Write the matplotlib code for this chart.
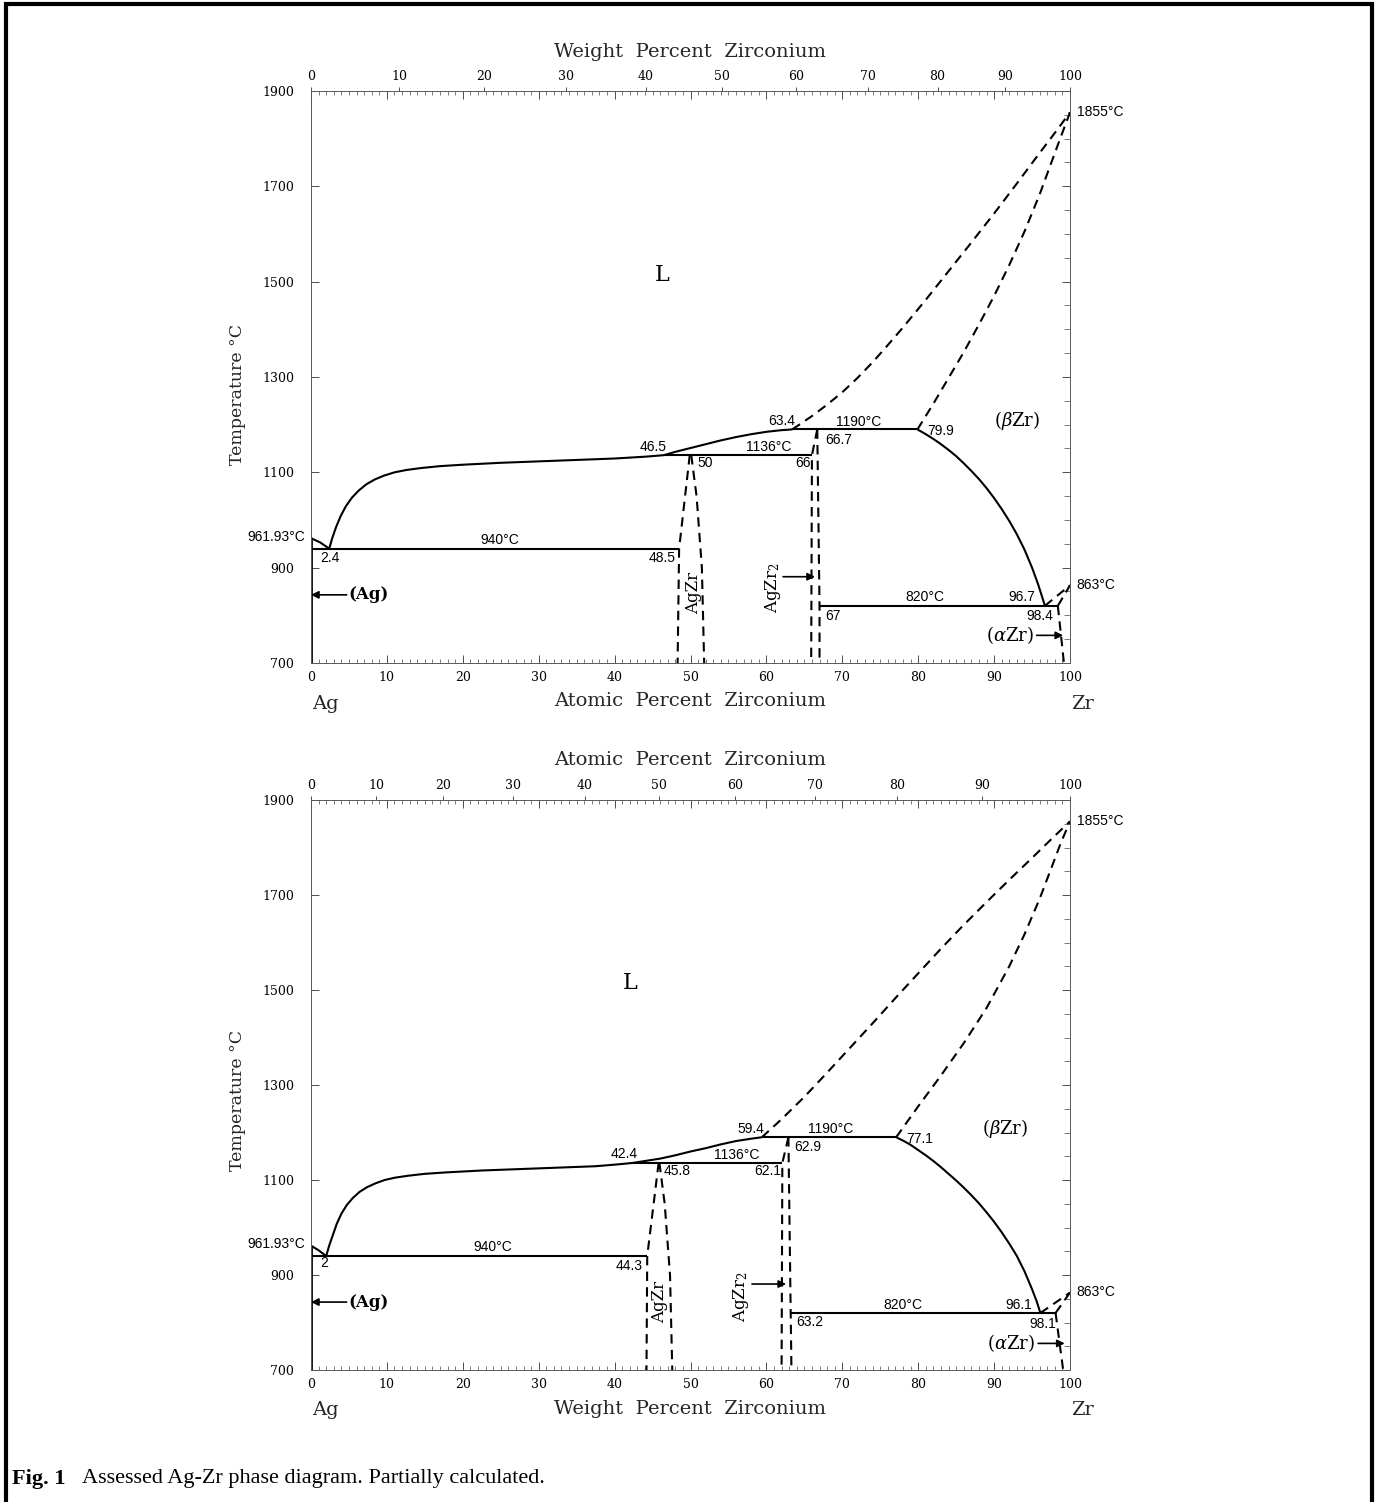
import numpy as np
import matplotlib
matplotlib.use("Agg")
import matplotlib.pyplot as plt
from matplotlib.patches import Rectangle
from matplotlib.ticker import MultipleLocator

plt.rcParams["mathtext.fontset"] = "dejavuserif"

M_AG = 107.868
M_ZR = 91.224

# ---------------- upper diagram: atomic percent Zr ----------------
A_AG_LIQ_X = [0.0, 1.2, 2.4]
A_AG_LIQ_T = [961.93, 953, 940]
A_LIQ_X = [2.4, 2.8, 3.3, 3.9, 4.6, 5.4, 6.3, 7.3, 8.4, 9.6, 11.0, 12.6, 14.5, 17.0, 20.0,
           25.0, 30.0, 35.0, 40.0, 44.2, 46.5,
           48.0, 50.0, 52.0, 54.0, 56.0, 58.0, 60.0, 62.0, 63.4]
A_LIQ_T = [940, 962, 985, 1008, 1029, 1047, 1062, 1075, 1085, 1093, 1100, 1105, 1109, 1113, 1116,
           1120, 1123, 1126, 1129, 1133, 1136,
           1143, 1151, 1159, 1167, 1174, 1180, 1185, 1188.5, 1190]
A_LIQ_HI_X = [63.4, 66, 68, 70, 72, 74, 76, 78, 81, 84, 87, 90, 93, 96, 98, 100]
A_LIQ_HI_T = [1190, 1218, 1242, 1268, 1298, 1331, 1367, 1404, 1462, 1522, 1582, 1643, 1706, 1770,
              1812, 1855]
A_SOL_X = [79.9, 82, 84, 86, 88, 90, 92, 94, 96, 97.5, 98.7, 100]
A_SOL_T = [1190, 1244, 1298, 1352, 1410, 1470, 1535, 1605, 1683, 1748, 1800, 1855]
A_BZR_X = [79.9, 81, 82, 83, 84, 85, 86, 87, 88, 89, 90, 91, 92, 93, 94, 95, 95.8, 96.7]
A_BZR_T = [1190, 1180, 1170, 1159, 1147, 1134, 1119, 1103, 1086, 1067, 1046, 1023, 998, 970, 938,
           900, 865, 820]
A_AGZR_L_X = [49.9, 48.5, 48.3]
A_AGZR_L_T = [1136, 940, 700]
A_AGZR_R_X = [50.1, 50.8, 51.5, 51.8]
A_AGZR_R_T = [1136, 1050, 900, 700]
A_AGZR2_L_X = [66.7, 66.0, 65.9]
A_AGZR2_L_T = [1190, 1136, 700]
A_AGZR2_R_X = [66.7, 67.0, 67.0]
A_AGZR2_R_T = [1190, 820, 700]
A_AZR_X = [[96.7, 100.0], [98.4, 100.0], [98.4, 99.2]]
A_AZR_T = [[820, 863], [820, 863], [820, 700]]
A_ISO_T = [940, 1136, 1190, 820]
A_ISO_X0 = [0.0, 46.5, 63.4, 67.0]
A_ISO_X1 = [48.5, 66.0, 79.9, 98.4]

# ---------------- lower diagram: weight percent Zr ----------------
W_AG_LIQ_X = [0.0, 1.0, 2.0]
W_AG_LIQ_T = [961.93, 952, 940]
W_LIQ_X = [2.0, 2.4, 2.9, 3.4, 4.0, 4.7, 5.5, 6.4, 7.4, 8.5, 9.7, 11.1, 12.8, 15.0, 17.8,
           22.5, 27.5, 32.5, 37.5, 40.5, 42.4,
           44.0, 46.0, 48.0, 50.0, 52.0, 54.0, 56.0, 58.0, 59.4]
W_LIQ_T = [940, 962, 985, 1008, 1029, 1047, 1062, 1075, 1085, 1093, 1100, 1105, 1109, 1113, 1116,
           1120, 1123, 1126, 1129, 1133, 1136,
           1140, 1145, 1152, 1160, 1167, 1175, 1182, 1187, 1190]
W_LIQ_HI_X = [59.4, 62, 65, 68, 71, 74, 77, 80, 83, 86, 89, 92, 95, 97.5, 100]
W_LIQ_HI_T = [1190, 1228, 1275, 1326, 1378, 1430, 1483, 1535, 1587, 1637, 1685, 1732, 1778, 1817,
              1855]
W_SOL_X = [77.1, 80, 83, 86, 89, 92, 94, 96, 97.5, 98.8, 100]
W_SOL_T = [1190, 1255, 1320, 1388, 1462, 1550, 1617, 1692, 1755, 1810, 1855]
W_BZR_X = [77.1, 78, 79, 80, 81, 82, 83, 84, 85, 86, 87, 88, 89, 90, 91, 92, 93, 94, 95, 95.6,
           96.1]
W_BZR_T = [1190, 1183, 1174, 1163, 1152, 1140, 1127, 1113, 1099, 1084, 1068, 1051, 1032, 1012, 990,
           966, 940, 908, 870, 845, 820]
W_AGZR_L_X = [45.8, 44.3, 44.2]
W_AGZR_L_T = [1136, 940, 700]
W_AGZR_R_X = [45.9, 46.6, 47.3, 47.6]
W_AGZR_R_T = [1136, 1050, 900, 700]
W_AGZR2_L_X = [62.9, 62.1, 62.0]
W_AGZR2_L_T = [1190, 1136, 700]
W_AGZR2_R_X = [62.9, 63.2, 63.3]
W_AGZR2_R_T = [1190, 820, 700]
W_AZR_X = [[96.1, 100.0], [98.1, 100.0], [98.1, 99.1]]
W_AZR_T = [[820, 863], [820, 863], [820, 700]]
W_ISO_T = [940, 1136, 1190, 820]
W_ISO_X0 = [0.0, 42.4, 59.4, 63.2]
W_ISO_X1 = [44.3, 62.1, 77.1, 98.1]

Y_TICKS = [700, 900, 1100, 1300, 1500, 1700, 1900]
X_TICKS = list(range(0, 101, 10))

# point labels (text, x, T)
A_LABELS = [("2.4", 2.5, 920), ("940°C", 24.9, 958), ("48.5", 46.2, 920), ("46.5", 45.1, 1154),
            ("50", 51.9, 1119), ("1136°C", 60.3, 1154), ("66", 64.8, 1120), ("63.4", 62.0, 1208),
            ("1190°C", 72.1, 1206), ("66.7", 69.5, 1168), ("79.9", 82.9, 1187),
            ("820°C", 80.9, 838), ("96.7", 93.6, 838), ("67", 68.8, 799), ("98.4", 96.0, 799)]
W_LABELS = [("2", 1.8, 925), ("940°C", 24.0, 958), ("44.3", 41.9, 919), ("42.4", 41.3, 1155),
            ("45.8", 48.3, 1119), ("1136°C", 56.1, 1153), ("62.1", 60.2, 1119), ("59.4", 57.9, 1207),
            ("1190°C", 68.4, 1207), ("62.9", 65.4, 1169), ("77.1", 80.2, 1186),
            ("820°C", 78.0, 837), ("96.1", 93.3, 837), ("63.2", 65.7, 800), ("98.1", 96.4, 797)]


def at_to_wt(a):
    a = np.asarray(a, dtype=float)
    with np.errstate(divide="ignore", invalid="ignore"):
        return 100 * a * M_ZR / (a * M_ZR + (100 - a) * M_AG)


def wt_to_at(w):
    w = np.asarray(w, dtype=float)
    with np.errstate(divide="ignore", invalid="ignore"):
        return 100 * (w / M_ZR) / (w / M_ZR + (100 - w) / M_AG)


W, H = 1377, 1502
fig = plt.figure(figsize=(W / 100, H / 100), dpi=100)

SERIF = "DejaVu Serif"
SANS = "Liberation Sans"
LW = 1.5
DASH = (0, (4.5, 3))


def px(x, y):
    return x / W, 1 - y / H


def draw_panel(ax, solid, dashed, iso, labels, agzr2_arrow, azr_arrow, agzr_txt, agzr2_txt, ltxt, bzr_txt):
    for xs, ts in solid:
        ax.plot(xs, ts, color="k", lw=LW, solid_capstyle="butt", solid_joinstyle="round")
    for xs, ts in dashed:
        ax.plot(xs, ts, color="k", lw=LW, linestyle=DASH)
    iso_t, x0, x1 = iso
    ax.hlines(iso_t, x0, x1, color="k", lw=LW)
    ax.vlines(0.0, 700, 961.93, color="k", lw=2.0)

    for txt, x, t in labels:
        ax.text(x, t, txt, ha="center", va="center", fontsize=10, family=SANS)
    ax.text(-0.8, 965, "961.93°C", ha="right", va="center", fontsize=10, family=SANS, clip_on=False)
    ax.text(100.9, 864, "863°C", ha="left", va="center", fontsize=10, family=SANS, clip_on=False)
    ax.text(100.9, 1856, "1855°C", ha="left", va="center", fontsize=10, family=SANS, clip_on=False)

    # phase names
    ax.text(ltxt[0], ltxt[1], "L", ha="center", va="center", fontsize=16, family=SERIF)
    ax.text(bzr_txt[0], bzr_txt[1], r"($\beta$Zr)", ha="center", va="center", fontsize=13, family=SERIF)
    ax.text(agzr_txt[0], agzr_txt[1], "AgZr", rotation=90, ha="center", va="center",
            fontsize=12, family=SERIF)
    ax.text(agzr2_txt[0], agzr2_txt[1], r"AgZr$_2$", rotation=90, ha="center", va="center",
            fontsize=12, family=SERIF)

    arrow = dict(arrowstyle="-|>", color="k", lw=1.2, mutation_scale=11, shrinkA=0, shrinkB=0)
    ax.annotate("", xy=(0.0, 843), xytext=(4.7, 843), arrowprops=arrow)
    ax.text(4.9, 843, "(Ag)", ha="left", va="center", fontsize=12, family=SERIF, fontweight="bold")
    ax.annotate("", xy=(agzr2_arrow[1], agzr2_arrow[2]), xytext=(agzr2_arrow[0], agzr2_arrow[2]),
                arrowprops=arrow)
    ax.annotate("", xy=(azr_arrow[1], azr_arrow[2]), xytext=(azr_arrow[0], azr_arrow[2]),
                arrowprops=arrow)
    ax.text(azr_arrow[0] - 0.4, azr_arrow[2], r"($\alpha$Zr)", ha="right", va="center",
            fontsize=13, family=SERIF)

    ax.set_xlim(0, 100)
    ax.set_ylim(700, 1900)
    ax.set_xticks(X_TICKS)
    ax.xaxis.set_minor_locator(MultipleLocator(1))
    ax.set_yticks(Y_TICKS)
    ax.yaxis.set_minor_locator(MultipleLocator(50))
    ax.tick_params(axis="x", which="major", direction="in", top=True, bottom=True, length=6,
                   width=0.7, pad=6, labelsize=9, labelfontfamily=SERIF, color="0.3")
    ax.tick_params(axis="x", which="minor", direction="in", top=True, bottom=True, length=3,
                   width=0.6, color="0.4")
    ax.tick_params(axis="y", which="major", direction="in", left=True, right=True, length=6,
                   width=0.7, pad=12, labelsize=9, labelfontfamily=SERIF, color="0.3")
    ax.tick_params(axis="y", which="minor", direction="in", left=False, right=True, length=4,
                   width=0.6, color="0.4")
    for s in ax.spines.values():
        s.set_linewidth(0.7)
        s.set_color("0.35")


# ---------------- upper panel ----------------
l, b = px(311, 663)
r, t = px(1070, 91)
ax1 = fig.add_axes([l, b, r - l, t - b])
draw_panel(
    ax1,
    solid=[(A_AG_LIQ_X, A_AG_LIQ_T), (A_LIQ_X, A_LIQ_T), (A_BZR_X, A_BZR_T)],
    dashed=[(A_LIQ_HI_X, A_LIQ_HI_T), (A_SOL_X, A_SOL_T), (A_AGZR_L_X, A_AGZR_L_T),
            (A_AGZR_R_X, A_AGZR_R_T), (A_AGZR2_L_X, A_AGZR2_L_T), (A_AGZR2_R_X, A_AGZR2_R_T)]
           + list(zip(A_AZR_X, A_AZR_T)),
    iso=(A_ISO_T, A_ISO_X0, A_ISO_X1),
    labels=A_LABELS,
    agzr2_arrow=(62.2, 66.4, 881),
    azr_arrow=(95.6, 99.1, 758),
    agzr_txt=(50.4, 846),
    agzr2_txt=(60.9, 857),
    ltxt=(46.2, 1514),
    bzr_txt=(93.0, 1208),
)
sec1 = ax1.secondary_xaxis("top", functions=(at_to_wt, wt_to_at))
sec1.set_xticks(X_TICKS)
sec1.tick_params(direction="out", length=3, width=0.7, pad=3, labelsize=9, labelfontfamily=SERIF,
                 color="0.3")
sec1.spines["top"].set_visible(False)

# ---------------- lower panel ----------------
l, b = px(311, 1370)
r, t = px(1070, 800)
ax2 = fig.add_axes([l, b, r - l, t - b])
draw_panel(
    ax2,
    solid=[(W_AG_LIQ_X, W_AG_LIQ_T), (W_LIQ_X, W_LIQ_T), (W_BZR_X, W_BZR_T)],
    dashed=[(W_LIQ_HI_X, W_LIQ_HI_T), (W_SOL_X, W_SOL_T), (W_AGZR_L_X, W_AGZR_L_T),
            (W_AGZR_R_X, W_AGZR_R_T), (W_AGZR2_L_X, W_AGZR2_L_T), (W_AGZR2_R_X, W_AGZR2_R_T)]
           + list(zip(W_AZR_X, W_AZR_T)),
    iso=(W_ISO_T, W_ISO_X0, W_ISO_X1),
    labels=W_LABELS,
    agzr2_arrow=(58.1, 62.6, 881),
    azr_arrow=(95.8, 99.3, 756),
    agzr_txt=(45.9, 844),
    agzr2_txt=(56.7, 854),
    ltxt=(42.0, 1515),
    bzr_txt=(91.4, 1209),
)
sec2 = ax2.secondary_xaxis("top", functions=(wt_to_at, at_to_wt))
sec2.set_xticks(X_TICKS)
sec2.tick_params(direction="out", length=3, width=0.7, pad=3, labelsize=9, labelfontfamily=SERIF,
                 color="0.3")
sec2.spines["top"].set_visible(False)

# axis titles
for (x, y), txt, size in [((690, 52), "Weight  Percent  Zirconium", 14),
                          ((690, 701), "Atomic  Percent  Zirconium", 14),
                          ((690, 760), "Atomic  Percent  Zirconium", 14),
                          ((690, 1409), "Weight  Percent  Zirconium", 14),
                          ((325, 704), "Ag", 14), ((1082, 704), "Zr", 14),
                          ((325, 1410), "Ag", 14), ((1082, 1410), "Zr", 14)]:
    fx, fy = px(x, y)
    fig.text(fx, fy, txt, ha="center", va="center", fontsize=size, family=SERIF, color="0.15")
for y in (394, 1100):
    fx, fy = px(238, y)
    fig.text(fx, fy, "Temperature °C", rotation=90, ha="center", va="center", fontsize=12.5,
             family=SERIF, color="0.15")

# caption
fx, fy = px(12, 1479)
fig.text(fx, fy, "Fig. 1", ha="left", va="center", fontsize=16, family="Liberation Serif",
         fontweight="bold")
fx, fy = px(82, 1479)
fig.text(fx, fy, "Assessed Ag-Zr phase diagram. Partially calculated.", ha="left", va="center",
         fontsize=16, family="Liberation Serif")

# page frame
fig.add_artist(Rectangle(px(6, 1510), (1372 - 6) / W, (1510 - 4) / H, transform=fig.transFigure,
                         fill=False, lw=3, edgecolor="k", clip_on=False))

fig.savefig("out.png", dpi=100)
